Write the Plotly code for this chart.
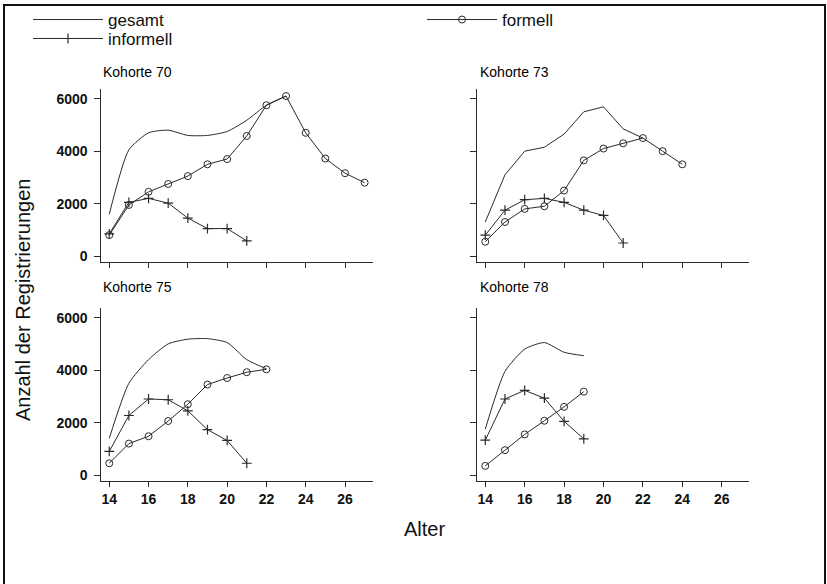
import plotly.graph_objects as go

# ---------------- data ----------------
cohorts = ["Kohorte 70", "Kohorte 73", "Kohorte 75", "Kohorte 78"]

age_ges_70 = list(range(14, 24))
ges_70 = [1600, 4050, 4700, 4800, 4600, 4600, 4750, 5180, 5750, 6100]
age_for_70 = list(range(14, 28))
for_70 = [800, 1950, 2450, 2750, 3050, 3500, 3700, 4580, 5750, 6100, 4700, 3720, 3160, 2800]
age_inf_70 = list(range(14, 22))
inf_70 = [850, 2050, 2200, 2020, 1450, 1050, 1050, 580]

age_ges_73 = list(range(14, 23))
ges_73 = [1300, 3100, 4000, 4150, 4650, 5500, 5690, 4850, 4500]
age_for_73 = list(range(14, 25))
for_73 = [550, 1300, 1800, 1900, 2500, 3650, 4100, 4300, 4500, 4000, 3500]
age_inf_73 = list(range(14, 22))
inf_73 = [800, 1750, 2150, 2200, 2050, 1750, 1550, 500]

age_ges_75 = list(range(14, 23))
ges_75 = [1400, 3500, 4400, 5000, 5180, 5200, 5050, 4400, 4050]
age_for_75 = list(range(14, 23))
for_75 = [450, 1200, 1480, 2060, 2700, 3450, 3700, 3920, 4030]
age_inf_75 = list(range(14, 22))
inf_75 = [900, 2270, 2900, 2870, 2450, 1730, 1320, 450]

age_ges_78 = list(range(14, 20))
ges_78 = [1750, 3950, 4800, 5050, 4680, 4550]
age_for_78 = list(range(14, 20))
for_78 = [350, 950, 1550, 2070, 2600, 3180]
age_inf_78 = list(range(14, 20))
inf_78 = [1330, 2900, 3230, 2930, 2050, 1380]

x_ticks = [14, 16, 18, 20, 22, 24, 26]
y_ticks = [0, 2000, 4000, 6000]

panels = [
    (age_ges_70, ges_70, age_for_70, for_70, age_inf_70, inf_70, "spline"),
    (age_ges_73, ges_73, age_for_73, for_73, age_inf_73, inf_73, "linear"),
    (age_ges_75, ges_75, age_for_75, for_75, age_inf_75, inf_75, "spline"),
    (age_ges_78, ges_78, age_for_78, for_78, age_inf_78, inf_78, "spline"),
]

# ---------------- layout geometry ----------------
W, H = 827, 584
FONT = "Liberation Sans, Arial, Helvetica, sans-serif"
LINE_C = "#2a2a2a"
TXT_C = "#111111"

x_dom = [[101.4 / W, 372.5 / W], [477.4 / W, 749.3 / W]]
y_dom = [[(H - 262.8) / H, (H - 89.3) / H], [(H - 482.5) / H, (H - 309.0) / H]]
x_range = [13.6, 27.4]
y_range = [-220, 6370]

fig = go.Figure()

for i, (ag, g, af, f, ai, inf, shape) in enumerate(panels):
    xa = "x" if i == 0 else f"x{i+1}"
    ya = "y" if i == 0 else f"y{i+1}"
    show = i == 0
    fig.add_trace(go.Scatter(
        x=ag, y=g, mode="lines", name="gesamt", xaxis=xa, yaxis=ya,
        line=dict(color=LINE_C, width=1, shape=shape, smoothing=0.6),
        showlegend=show, legend="legend"))
    fig.add_trace(go.Scatter(
        x=af, y=f, mode="lines+markers", name="formell", xaxis=xa, yaxis=ya,
        line=dict(color=LINE_C, width=1),
        marker=dict(symbol="circle-open", size=7, color=LINE_C, line=dict(width=1, color=LINE_C)),
        showlegend=show, legend="legend"))
    fig.add_trace(go.Scatter(
        x=ai, y=inf, mode="lines+markers", name="informell", xaxis=xa, yaxis=ya,
        line=dict(color=LINE_C, width=1),
        marker=dict(symbol="cross-thin-open", size=7, color=LINE_C, line=dict(width=1.2, color=LINE_C)),
        showlegend=show, legend="legend2"))

layout_axes = {}
for i in range(4):
    col = i % 2
    row = i // 2
    xk = "xaxis" if i == 0 else f"xaxis{i+1}"
    yk = "yaxis" if i == 0 else f"yaxis{i+1}"
    xa = "x" if i == 0 else f"x{i+1}"
    ya = "y" if i == 0 else f"y{i+1}"
    layout_axes[xk] = dict(
        domain=x_dom[col], anchor=ya, range=x_range, tickvals=x_ticks,
        showticklabels=(row == 1), ticks="outside", ticklen=5, tickwidth=1,
        tickcolor=LINE_C, showline=True, linecolor=LINE_C, linewidth=1,
        showgrid=False, zeroline=False,
        tickfont=dict(family=FONT, size=14, color=TXT_C, weight="bold"))
    layout_axes[yk] = dict(
        domain=y_dom[row], anchor=xa, range=y_range, tickvals=y_ticks,
        showticklabels=(col == 0), ticks="outside", ticklen=6, tickwidth=1,
        tickcolor=LINE_C, showline=True, linecolor=LINE_C, linewidth=1,
        showgrid=False, zeroline=False, ticklabelstandoff=4,
        tickfont=dict(family=FONT, size=14, color=TXT_C, weight="bold"))

annotations = []
title_pos = [(101, 72.7), (478, 72.7), (101, 288), (478, 288)]
for name, (px, py) in zip(cohorts, title_pos):
    annotations.append(dict(
        text=name, xref="paper", yref="paper", x=px / W, y=1 - py / H,
        xanchor="left", yanchor="middle", showarrow=False,
        font=dict(family=FONT, size=14, color="#000000")))
annotations.append(dict(
    text="Anzahl der Registrierungen", xref="paper", yref="paper",
    x=23 / W, y=1 - 301 / H, textangle=-90, showarrow=False,
    xanchor="center", yanchor="middle",
    font=dict(family=FONT, size=20, color=TXT_C)))
annotations.append(dict(
    text="Alter", xref="paper", yref="paper",
    x=424 / W, y=1 - 531 / H, showarrow=False,
    xanchor="center", yanchor="middle",
    font=dict(family=FONT, size=20, color=TXT_C)))

legend_common = dict(
    xref="paper", yref="paper", xanchor="left", yanchor="top",
    itemwidth=70, font=dict(family=FONT, size=17, color=TXT_C),
    bgcolor="rgba(0,0,0,0)", borderwidth=0, traceorder="normal")

fig.update_layout(
    width=W, height=H,
    margin=dict(l=0, r=0, t=0, b=0, pad=0),
    paper_bgcolor="white", plot_bgcolor="white",
    showlegend=True,
    legend=dict(orientation="h", x=28 / W, y=1 - 2 / H,
                entrywidth=309, entrywidthmode="pixels", **legend_common),
    legend2=dict(orientation="h", x=28 / W, y=1 - 21 / H, **legend_common),
    annotations=annotations,
    shapes=[dict(type="rect", xref="paper", yref="paper",
                 x0=4 / W, x1=825 / W, y0=-0.1, y1=1 - 5 / H,
                 line=dict(color="#111111", width=2), layer="above")],
    **layout_axes,
)

fig.write_html("out.html")
